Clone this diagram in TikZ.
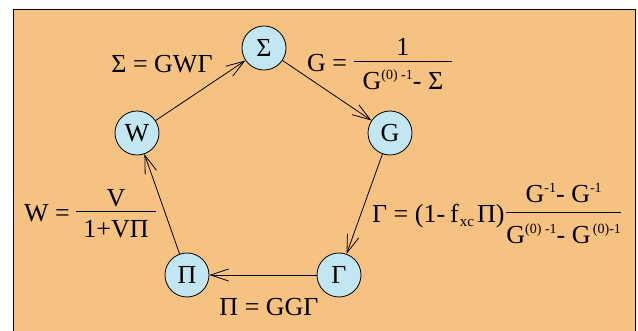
\documentclass[tikz,border=0pt]{standalone}
\usepackage{fontspec}
\setmainfont{Liberation Serif}
\usetikzlibrary{arrows.meta}
\definecolor{bgorange}{HTML}{F5C281}
\definecolor{nodeblue}{HTML}{C2E6F2}
\newcommand{\hsup}[1]{\raisebox{10pt}{\fontsize{14}{14}\selectfont #1}}
\newcommand{\hsub}[1]{\raisebox{-4pt}{\fontsize{15}{15}\selectfont #1}}
% #1 pad, #2 num gap, #3 den gap, #4 num, #5 den
\newcommand{\myfrac}[5]{%
 \lower\dimexpr#3-10pt\relax\vbox{\offinterlineskip\halign{\hfil\kern#1\relax##\kern#1\relax\hfil\cr
  \raisebox{0pt}[18pt][0pt]{#4}\cr
  \noalign{\kern#2\relax\hrule height 0.8pt\kern\dimexpr#3-17pt\relax}
  \raisebox{0pt}[17pt][0pt]{#5}\cr}}}
\begin{document}
\begin{tikzpicture}[x=1pt,y=-1pt,
 every node/.style={font=\fontsize{26}{30}\selectfont, inner sep=0pt},
 qnode/.style={circle, draw, line width=0.8pt, fill=nodeblue, minimum size=44pt},
 arr/.style={line width=0.8pt, -{Straight Barb[length=18pt,width=12pt,line width=0.8pt]}},
 lbl/.style={anchor=base}, lblw/.style={anchor=base west}]
\useasboundingbox (0,0) rectangle (638,331);
\fill[white] (0,0) rectangle (638,331);
\fill[bgorange] (13,10) rectangle (635,331);
\draw[line width=1pt] (13,331) -- (13,10) -- (635,10) -- (635,331);
\node[qnode] (S) at (264,48) {Σ};
\node[qnode] (W) at (137,133) {W};
\node[qnode] (G) at (390,133) {G};
\node[qnode] (P) at (187,275) {Π};
\node[qnode] (T) at (339,275) {Γ};
\draw[arr] (W) -- (S);
\draw[arr] (S) -- (G);
\draw[arr] (G) -- (T);
\draw[arr] (T) -- (P);
\draw[arr] (P) -- (W);
\node[lbl] (l1) at (162,73) {Σ = GWΓ};
\node[lblw] (l2) at (307,72) {G = \myfrac{9pt}{6pt}{28pt}{1}{G\hsup{(0) -1}- Σ}};
\node[lblw] (l3) at (24,222) {W = \myfrac{7pt}{5pt}{26pt}{V}{1+VΠ}};
\node[lblw] (l4) at (372,223) {Γ = (1-\kern5pt f\kern1pt\hsub{xc}\kern3pt Π)\kern2pt\myfrac{0pt}{10pt}{31pt}{G\hsup{-1}- G\hsup{-1}}{G\hsup{(0) -1}- G\hsup{\,(0)-1}}};
\node[lbl] (l5) at (269,316) {Π = GGΓ};
\end{tikzpicture}
\end{document}
